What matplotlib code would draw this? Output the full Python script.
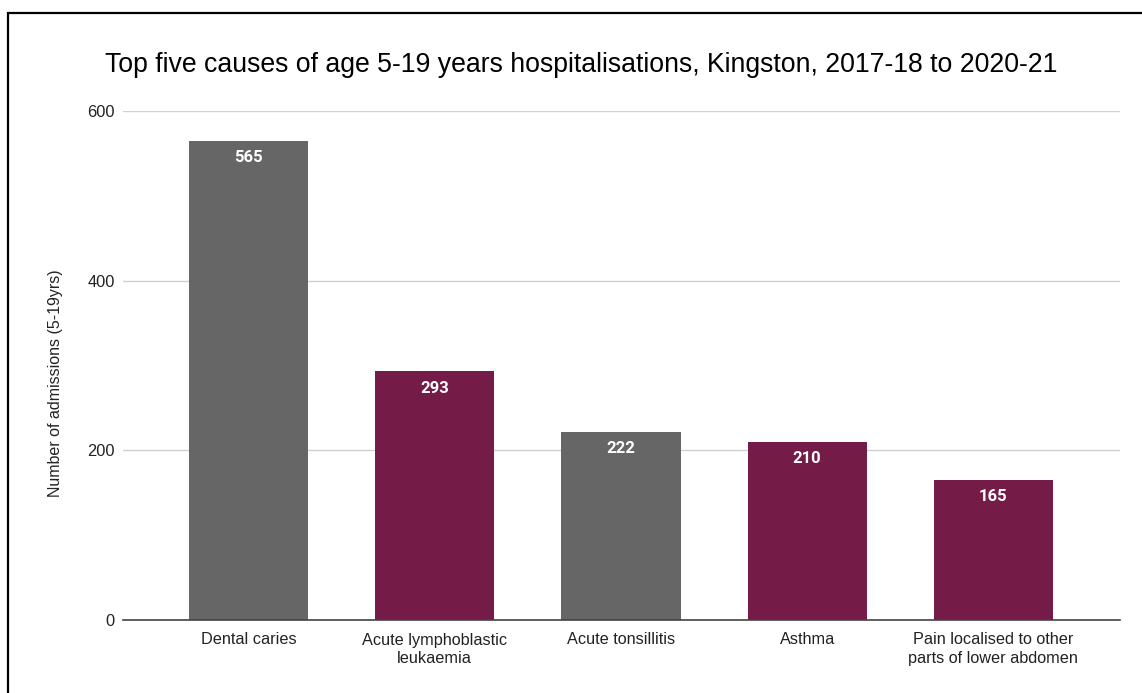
import matplotlib.pyplot as plt
from matplotlib.patches import Rectangle

causes = ["Dental caries", "Acute lymphoblastic\nleukaemia", "Acute tonsillitis",
          "Asthma", "Pain localised to other\nparts of lower abdomen"]
admissions = [565, 293, 222, 210, 165]
bar_colors = ["#666666", "#741b47", "#666666", "#741b47", "#741b47"]
yticks = [0, 200, 400, 600]

plt.rcParams["font.family"] = ["Liberation Sans", "DejaVu Sans"]

W, H = 1142, 693
fig = plt.figure(figsize=(W / 100, H / 100), dpi=100)

# frame around the chart, cut off on the right and bottom
fig.patches.append(Rectangle((8 / W, -0.1), 1.2, (H - 13) / H + 0.1,
                             transform=fig.transFigure, fill=False,
                             edgecolor="black", linewidth=1.6))

ax = fig.add_axes([123 / W, (H - 620) / H, (1120 - 123) / W, (620 - 111) / H])
x = range(len(causes))
bars = ax.bar(x, admissions, width=0.64, color=bar_colors, zorder=2)

for b, v in zip(bars, admissions):
    ax.text(b.get_x() + b.get_width() / 2, v - 11, str(v), ha="center", va="top",
            color="white", fontsize=12, fontweight="bold", family="Roboto", zorder=3)

ax.set_xlim(-0.674, 4.68)
ax.set_ylim(0, 600)
ax.set_yticks(yticks)
ax.set_xticks(list(x))
ax.set_xticklabels(causes, fontsize=11.7, color="#222222", linespacing=1.29)
ax.tick_params(axis="y", labelsize=11.8, labelcolor="#222222", length=0, pad=6)
ax.tick_params(axis="x", length=0, pad=9)
ax.grid(axis="y", color="#d0d0d0", linewidth=1, zorder=0)
for s in ["top", "right", "left"]:
    ax.spines[s].set_visible(False)
ax.spines["bottom"].set_color("#444444")
ax.spines["bottom"].set_linewidth(1.2)
ax.spines["bottom"].set_zorder(3)

ax.set_ylabel("Number of admissions (5-19yrs)", fontsize=11.5, color="#222222")
ax.yaxis.set_label_coords(-0.0605, 0.466)
fig.text(0.5 * (103 + 1060) / W, (H - 65) / H,
         "Top five causes of age 5-19 years hospitalisations, Kingston, 2017-18 to 2020-21",
         ha="center", va="center", fontsize=19.2, color="black")

fig.savefig("out.png", dpi=100)
